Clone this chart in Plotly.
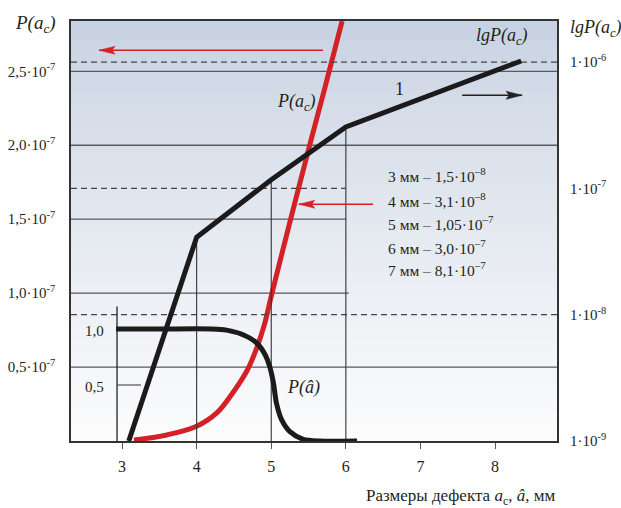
import plotly.graph_objects as go

# ---------------- data ----------------
# red curve P(a_c), left axis (values in absolute probability)
red_x = [3.16, 3.60, 4.00, 4.27, 4.49, 4.68, 4.81, 4.91, 5.00, 5.26, 5.51, 5.73, 5.95]
red_y = [0.007e-7, 0.041e-7, 0.10e-7, 0.19e-7, 0.33e-7, 0.48e-7, 0.635e-7, 0.79e-7,
         0.98e-7, 1.50e-7, 1.99e-7, 2.41e-7, 2.84e-7]

# black curve 1, lgP(a_c), right log axis
lg_x = [3.09, 4.0, 5.0, 6.0, 8.35]
lg_y = [1.0e-9, 4.1e-8, 1.17e-7, 3.06e-7, 1.02e-6]

# black curve P(â), inner scale 0..1
ph_x = [2.92, 3.5, 4.2, 4.40, 4.63, 4.81, 4.92, 4.98, 5.03, 5.07, 5.14, 5.25, 5.43, 5.65, 6.15]
ph_y = [1.0, 1.0, 1.0, 0.99, 0.946, 0.872, 0.768, 0.663, 0.515, 0.337, 0.188, 0.083, 0.015, 0.0, 0.0]

x_ticks = [3, 4, 5, 6, 7, 8]
left_ticks = [0.5e-7, 1.0e-7, 1.5e-7, 2.0e-7, 2.5e-7]
left_labels = ["0,5·10<sup>-7</sup>", "1,0·10<sup>-7</sup>", "1,5·10<sup>-7</sup>",
               "2,0·10<sup>-7</sup>", "2,5·10<sup>-7</sup>"]
right_ticks = [1e-9, 1e-8, 1e-7, 1e-6]
right_labels = ["1·10<sup>-9</sup>", "1·10<sup>-8</sup>", "1·10<sup>-7</sup>", "1·10<sup>-6</sup>"]
inner_ticks = [0.5, 1.0]
inner_labels = ["0,5", "1,0"]

legend_sizes = ["3 мм", "4 мм", "5 мм", "6 мм", "7 мм"]
legend_values = ["1,5·10<sup>–8</sup>", "3,1·10<sup>–8</sup>", "1,05·10<sup>–7</sup>",
                 "3,0·10<sup>–7</sup>", "8,1·10<sup>–7</sup>"]

# ---------------- layout constants ----------------
XMIN, XMAX = 2.316, 8.83
YMAX = 2.84e-7
LGMIN, LGMAX = -9, -5.675
Y3MAX = 3.75
FONT = "Liberation Serif"
TXT = "#231f20"
RED = "#d42027"
BLK = "#1c1a1b"
GRID = "#5a5a5a"

fig = go.Figure()

# background gradient bands
shapes = []
n = 60
top = (197, 208, 224)
bot = (252, 252, 253)
for i in range(n):
    f = (i + 0.5) / n
    g = f ** 0.8
    c = tuple(round(top[k] + (bot[k] - top[k]) * g) for k in range(3))
    shapes.append(dict(type="rect", xref="x domain", yref="y domain",
                       x0=0, x1=1, y0=1 - (i + 1) / n, y1=1 - i / n + 0.002,
                       fillcolor="rgb(%d,%d,%d)" % c, line=dict(width=0), layer="below"))

# solid gridlines (left axis)
full_solid = [0.5e-7, 2.0e-7, 2.5e-7]
part_solid = [1.0e-7, 1.5e-7]
part_end = {1.0e-7: 6.04, 1.5e-7: 6.0}
for v in full_solid:
    fig.add_trace(go.Scatter(x=[XMIN, XMAX], y=[v, v], mode="lines",
                             line=dict(color=GRID, width=1.3), hoverinfo="skip", showlegend=False))
for v in part_solid:
    fig.add_trace(go.Scatter(x=[XMIN, part_end[v]], y=[v, v], mode="lines",
                             line=dict(color=GRID, width=1.3), hoverinfo="skip", showlegend=False))

# dashed gridlines (right log axis)
dash_ext = {1e-8: XMAX, 1e-7: 6.0, 1e-6: XMAX}
for v in [1e-8, 1e-7, 1e-6]:
    fig.add_trace(go.Scatter(x=[XMIN, dash_ext[v]], y=[v, v], mode="lines", yaxis="y2",
                             line=dict(color="#444", width=1.2, dash="6px,4px"),
                             hoverinfo="skip", showlegend=False))

# vertical connectors from curve 1 to the x axis
for xv in [4.0, 5.0, 6.0]:
    yv = lg_y[lg_x.index(xv)]
    fig.add_trace(go.Scatter(x=[xv, xv], y=[yv, 1e-9], mode="lines", yaxis="y2",
                             line=dict(color="#333", width=1.1), hoverinfo="skip", showlegend=False))

# inner P(â) axis line and 0.5 tick
fig.add_trace(go.Scatter(x=[2.933, 2.933], y=[-0.05, 1.2], mode="lines", yaxis="y3",
                         line=dict(color="#222", width=1.3), hoverinfo="skip",
                         showlegend=False, cliponaxis=False))
fig.add_trace(go.Scatter(x=[2.933, 3.255], y=[0.5, 0.5], mode="lines", yaxis="y3",
                         line=dict(color="#444", width=1.1), hoverinfo="skip", showlegend=False))

# curves
fig.add_trace(go.Scatter(x=lg_x, y=lg_y, mode="lines", yaxis="y2",
                         line=dict(color=BLK, width=5), showlegend=False, cliponaxis=False))
fig.add_trace(go.Scatter(x=ph_x, y=ph_y, mode="lines", yaxis="y3",
                         line=dict(color=BLK, width=5, shape="spline", smoothing=0.8),
                         showlegend=False, cliponaxis=False))
fig.add_trace(go.Scatter(x=red_x, y=red_y, mode="lines",
                         line=dict(color=RED, width=5, shape="spline", smoothing=1.0),
                         showlegend=False, cliponaxis=False))

# arrows: line + pixel-sized head
def arrow(x_tail, x_tip, y, color, w, direction):
    shapes.append(dict(type="line", xref="x", yref="y", x0=x_tail, x1=x_tip, y0=y, y1=y,
                       line=dict(color=color, width=w)))
    s = 1 if direction == "left" else -1
    path = "M0,0 L%d,-4 L%d,0 L%d,4 Z" % (16 * s, 13 * s, 16 * s)
    shapes.append(dict(type="path", xref="x", yref="y", xsizemode="pixel", ysizemode="pixel",
                       xanchor=x_tip, yanchor=y, path=path, fillcolor=color,
                       line=dict(color=color, width=0.5)))

arrow(5.694, 2.692, 2.642e-7, RED, 1.4, "left")
arrow(6.365, 5.369, 1.601e-7, RED, 1.4, "left")
arrow(7.558, 8.362, 2.338e-7, "#222", 1.3, "right")

ann = []
def T(text, x, y, xref="x", yref="y", size=15, xa="center", ya="middle", italic=False, color=TXT, ys=0):
    ann.append(dict(text=text, x=x, y=y, xref=xref, yref=yref, showarrow=False,
                    xanchor=xa, yanchor=ya, yshift=ys,
                    font=dict(family=FONT, size=size, color=color,
                              style="italic" if italic else "normal")))

T("P(a<sub>c</sub>)", -0.026, 0.993, "paper", "paper", size=19, xa="right", italic=True)
T("lgP(a<sub>c</sub>)", 1.022, 0.983, "paper", "paper", size=18, xa="left", italic=True)
T("lgP(a<sub>c</sub>)", 8.094, 2.736e-7, size=18, italic=True)
T("1", 6.713, 2.378e-7, size=18)
T("P(a<sub>c</sub>)", 5.332, 2.29e-7, size=18, italic=True)
T("P(<i>â</i>)", 5.426, 0.36e-7, size=18, italic=True)
for v, lab in zip(inner_ticks, inner_labels):
    T(lab, 2.786, v, yref="y3", size=15, xa="right", ys=-2)
leg_y = [1.797e-7, 1.628e-7, 1.473e-7, 1.311e-7, 1.162e-7]
for s_, v_, yy in zip(legend_sizes, legend_values, leg_y):
    T(s_ + " – " + v_, 6.539, yy, size=15.5, xa="left")
T("Размеры дефекта <i>a</i><sub>c</sub>, <i>â</i>, мм", 1.0, -0.134, "paper", "paper",
  size=17, xa="right")

fig.update_layout(
    width=621, height=508,
    margin=dict(l=71, r=64, t=21, b=67),
    paper_bgcolor="white", plot_bgcolor="rgba(0,0,0,0)",
    shapes=shapes, annotations=ann,
    font=dict(family=FONT, color=TXT),
    xaxis=dict(range=[XMIN, XMAX], tickvals=x_ticks, ticks="outside", ticklen=6,
               tickcolor="#555", tickwidth=1.2, showline=True, linecolor="#333", linewidth=1.5,
               mirror=True, showgrid=False, zeroline=False, ticklabelstandoff=4,
               automargin=False, tickfont=dict(size=16, family=FONT, color=TXT)),
    yaxis=dict(range=[0, YMAX], tickvals=left_ticks, ticktext=left_labels, ticks="",
               showline=True, linecolor="#333", linewidth=1.5, mirror=True,
               showgrid=False, zeroline=False, ticklabelstandoff=11, automargin=False,
               tickfont=dict(size=15, family=FONT, color=TXT)),
    yaxis2=dict(overlaying="y", side="right", type="log", range=[LGMIN, LGMAX],
                tickvals=right_ticks, ticktext=right_labels, ticks="", showline=False,
                showgrid=False, zeroline=False, ticklabelstandoff=12, automargin=False,
                tickfont=dict(size=15, family=FONT, color=TXT)),
    yaxis3=dict(overlaying="y", range=[0, Y3MAX], visible=False),
    showlegend=False,
)

fig.write_html("out.html", config={"displayModeBar": False},
               post_script="document.body.style.margin='0';document.body.style.overflow='hidden';")
